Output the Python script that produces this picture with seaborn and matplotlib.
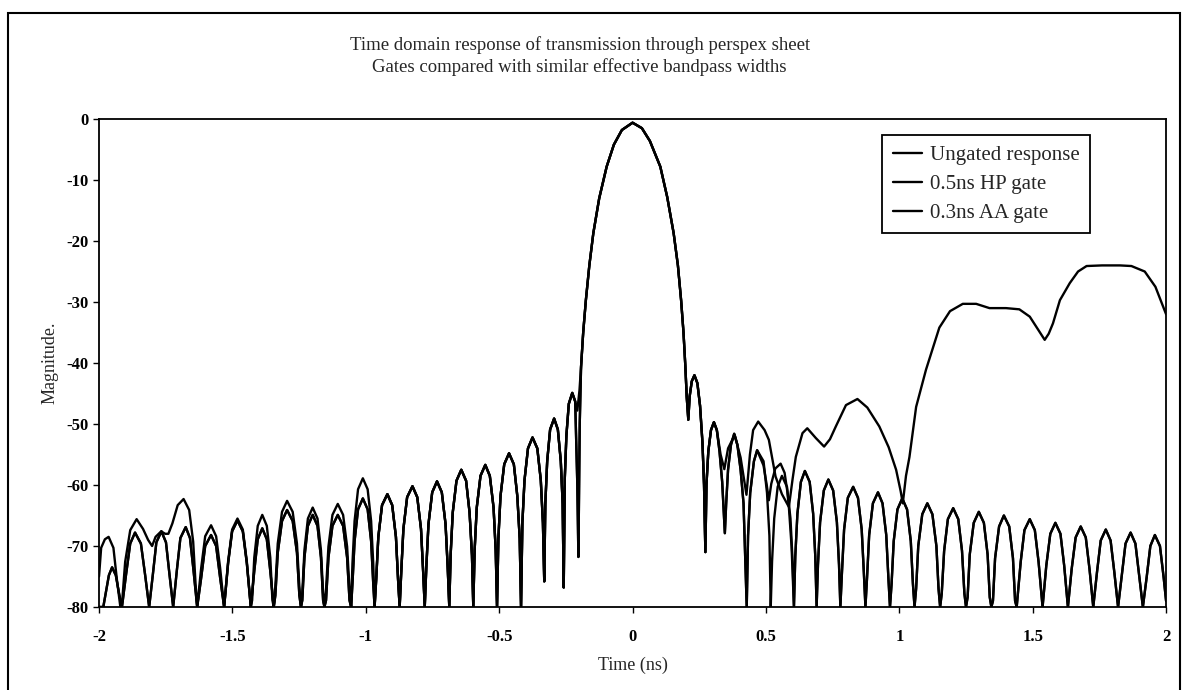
import matplotlib
matplotlib.use('Agg')
import matplotlib.pyplot as plt
import pandas as pd
import seaborn as sns
from matplotlib.patches import Rectangle

# ─────────────────────────────────────────────────────────────────────────────
# Data: (time in ns, magnitude in dB) pairs
# ─────────────────────────────────────────────────────────────────────────────

ungated_left = [
    (-2.000, -75.0), (-1.992, -70.3), (-1.978, -68.9), (-1.964, -68.5), (-1.946, -70.3),
    (-1.933, -75.5), (-1.920, -80.0),
    (-1.913, -79.0), (-1.902, -72.6), (-1.883, -67.4), (-1.859, -65.6), (-1.835, -67.2),
    (-1.816, -69.0), (-1.801, -70.0),
    (-1.788, -68.5), (-1.767, -67.6), (-1.752, -68.0), (-1.740, -68.0), (-1.725, -66.3),
    (-1.705, -63.3), (-1.683, -62.3), (-1.662, -64.1), (-1.647, -69.3), (-1.638, -76.3),
    (-1.632, -80.0),
    (-1.617, -73.6), (-1.602, -68.4), (-1.580, -66.6), (-1.561, -68.4), (-1.546, -73.6), (-1.531, -80.0),
    (-1.516, -72.5), (-1.501, -67.3), (-1.481, -65.5), (-1.461, -67.3), (-1.446, -72.5), (-1.431, -80.0),
    (-1.426, -78.9), (-1.418, -71.9), (-1.405, -66.7), (-1.388, -64.9), (-1.371, -66.7),
    (-1.358, -71.9), (-1.350, -78.9), (-1.345, -80.0),
    (-1.339, -76.6), (-1.330, -69.6), (-1.314, -64.4), (-1.295, -62.6), (-1.274, -64.4),
    (-1.258, -69.6), (-1.249, -76.6), (-1.243, -80.0),
    (-1.238, -77.7), (-1.230, -70.7), (-1.217, -65.5), (-1.199, -63.7), (-1.181, -65.5),
    (-1.168, -70.7), (-1.160, -77.7), (-1.155, -80.0),
    (-1.149, -77.1), (-1.140, -70.1), (-1.125, -64.9), (-1.105, -63.1), (-1.085, -64.9),
    (-1.070, -70.1), (-1.061, -77.1), (-1.055, -80.0),
    (-1.050, -72.9), (-1.042, -65.9), (-1.029, -60.7), (-1.011, -58.9), (-0.993, -60.7),
    (-0.980, -65.9), (-0.972, -72.9), (-0.967, -80.0),
]

gated_left = [
    (-2.000, -80.0), (-1.984, -80.0), (-1.976, -78.0), (-1.963, -74.8), (-1.951, -73.5),
    (-1.937, -74.8), (-1.924, -78.0), (-1.914, -80.0),
    (-1.899, -74.8), (-1.883, -69.6), (-1.865, -67.8), (-1.843, -69.6), (-1.827, -74.8), (-1.812, -80.0),
    (-1.798, -74.6), (-1.785, -69.4), (-1.766, -67.6), (-1.749, -69.4), (-1.736, -74.6), (-1.722, -80.0),
    (-1.708, -73.9), (-1.695, -68.7), (-1.675, -66.9), (-1.659, -68.7), (-1.646, -73.9), (-1.632, -80.0),
    (-1.617, -75.2), (-1.602, -70.0), (-1.580, -68.2), (-1.561, -70.0), (-1.546, -75.2), (-1.531, -80.0),
    (-1.516, -72.8), (-1.501, -67.6), (-1.481, -65.8), (-1.461, -67.6), (-1.446, -72.8), (-1.431, -80.0),
    (-1.418, -74.1), (-1.405, -68.9), (-1.388, -67.1), (-1.371, -68.9), (-1.358, -74.1), (-1.345, -80.0),
    (-1.339, -78.1), (-1.330, -71.1), (-1.314, -65.9), (-1.295, -64.1), (-1.274, -65.9),
    (-1.258, -71.1), (-1.249, -78.1), (-1.243, -80.0),
    (-1.238, -78.9), (-1.230, -71.9), (-1.217, -66.7), (-1.199, -64.9), (-1.181, -66.7),
    (-1.168, -71.9), (-1.160, -78.9), (-1.155, -80.0),
    (-1.149, -78.9), (-1.140, -71.9), (-1.125, -66.7), (-1.105, -64.9), (-1.085, -66.7),
    (-1.070, -71.9), (-1.061, -78.9), (-1.055, -80.0),
    (-1.050, -76.2), (-1.042, -69.2), (-1.029, -64.0), (-1.011, -62.2), (-0.993, -64.0),
    (-0.980, -69.2), (-0.972, -76.2), (-0.967, -80.0),
]

shared_left = [
    (-0.961, -75.5), (-0.953, -68.5), (-0.939, -63.3), (-0.919, -61.5), (-0.901, -63.3),
    (-0.887, -68.5), (-0.879, -75.5), (-0.873, -80.0),
    (-0.867, -74.2), (-0.859, -67.2), (-0.845, -62.0), (-0.825, -60.2), (-0.807, -62.0),
    (-0.793, -67.2), (-0.785, -74.2), (-0.779, -80.0),
    (-0.773, -73.4), (-0.765, -66.4), (-0.751, -61.2), (-0.733, -59.4), (-0.715, -61.2),
    (-0.701, -66.4), (-0.693, -73.4), (-0.687, -80.0),
    (-0.682, -71.5), (-0.674, -64.5), (-0.660, -59.3), (-0.642, -57.5), (-0.624, -59.3),
    (-0.611, -64.5), (-0.602, -71.5), (-0.597, -80.0),
    (-0.592, -70.7), (-0.584, -63.7), (-0.570, -58.5), (-0.552, -56.7), (-0.535, -58.5),
    (-0.521, -63.7), (-0.513, -70.7), (-0.508, -80.0),
    (-0.503, -68.8), (-0.495, -61.8), (-0.481, -56.6), (-0.463, -54.8), (-0.445, -56.6),
    (-0.432, -61.8), (-0.423, -68.8), (-0.418, -80.0),
    (-0.413, -66.2), (-0.405, -59.2), (-0.392, -54.0), (-0.375, -52.2), (-0.357, -54.0),
    (-0.344, -59.2), (-0.336, -66.2), (-0.331, -75.8),
    (-0.327, -63.1), (-0.320, -56.1), (-0.309, -50.9), (-0.294, -49.1), (-0.280, -50.9),
    (-0.269, -56.1), (-0.262, -63.1), (-0.258, -76.8),
    (-0.254, -58.9), (-0.248, -51.9), (-0.239, -46.7), (-0.226, -44.9), (-0.215, -46.3),
]

ungated_join = [(-0.207, -47.8), (-0.199, -44.5)]
gated_join = [(-0.207, -60.0), (-0.203, -71.8), (-0.198, -50.0)]

main_lobe = [
    (-0.193, -40.6), (-0.185, -35.0), (-0.175, -29.7), (-0.162, -24.0), (-0.147, -18.7),
    (-0.125, -13.0), (-0.097, -7.8), (-0.070, -4.2), (-0.040, -1.8), (0.000, -0.6),
    (0.035, -1.5), (0.065, -3.6), (0.104, -7.8), (0.130, -12.8), (0.154, -18.7),
    (0.170, -24.0), (0.182, -29.7), (0.191, -35.0), (0.198, -40.6), (0.203, -45.5),
    (0.209, -49.3),
]

shared_right_near = [
    (0.214, -45.5), (0.222, -43.0), (0.232, -42.0), (0.243, -43.3), (0.253, -47.0),
    (0.262, -53.0), (0.268, -60.0), (0.273, -71.0),
    (0.277, -60.0), (0.284, -54.5), (0.294, -51.0), (0.305, -49.7), (0.316, -51.0),
]

ungated_right = [
    (0.330, -55.0), (0.344, -57.4), (0.358, -54.0), (0.383, -51.8), (0.405, -55.5),
    (0.427, -61.6), (0.440, -55.0), (0.452, -51.0), (0.471, -49.6), (0.495, -51.0),
    (0.511, -52.6), (0.536, -58.6), (0.560, -61.5), (0.586, -63.6), (0.600, -59.0),
    (0.612, -55.4), (0.637, -51.5), (0.655, -50.7), (0.687, -52.3), (0.718, -53.7),
    (0.740, -52.5), (0.762, -50.4), (0.800, -46.9), (0.843, -45.9), (0.880, -47.3),
    (0.925, -50.4), (0.960, -53.8), (0.988, -57.5), (1.005, -61.0), (1.013, -63.0),
    (1.025, -58.5), (1.038, -55.4), (1.063, -47.2), (1.100, -41.1), (1.150, -34.2),
    (1.190, -31.5), (1.238, -30.3), (1.288, -30.3), (1.338, -31.0), (1.400, -31.0),
    (1.450, -31.2), (1.489, -32.4), (1.520, -34.5), (1.545, -36.2), (1.560, -35.2),
    (1.576, -33.5), (1.602, -29.7), (1.639, -26.9), (1.670, -25.0), (1.702, -24.1),
    (1.760, -24.0), (1.827, -24.0), (1.870, -24.1), (1.920, -25.0), (1.960, -27.5),
    (2.000, -32.0),
]

hp_right_near = [
    (0.326, -54.5), (0.336, -59.5), (0.346, -67.9), (0.351, -63.0), (0.358, -57.5),
    (0.369, -53.4), (0.381, -51.6), (0.393, -53.4), (0.405, -57.5), (0.416, -63.0),
    (0.428, -80.0),
    (0.433, -68.3), (0.441, -61.3), (0.455, -56.1), (0.467, -54.3), (0.491, -56.1),
    (0.504, -61.3), (0.513, -68.3), (0.518, -80.0),
    (0.523, -72.5), (0.531, -65.5), (0.544, -60.3), (0.560, -58.5), (0.579, -60.3),
    (0.592, -65.5), (0.600, -72.5), (0.605, -80.0),
]

aa_right_near = [
    (0.326, -54.5), (0.336, -59.5), (0.346, -67.9), (0.351, -63.0), (0.358, -57.5),
    (0.369, -53.4), (0.381, -51.6), (0.393, -53.4), (0.405, -57.5), (0.416, -63.0),
    (0.428, -80.0),
    (0.433, -68.3), (0.441, -61.3), (0.455, -56.1), (0.467, -54.3), (0.491, -56.8),
    (0.503, -60.0), (0.511, -62.5), (0.520, -59.8), (0.535, -57.3), (0.555, -56.5),
    (0.570, -58.0), (0.580, -61.0), (0.586, -63.6), (0.596, -70.0), (0.605, -80.0),
]

gated_right = [
    (0.610, -71.7), (0.618, -64.7), (0.631, -59.5), (0.646, -57.7), (0.664, -59.5),
    (0.677, -64.7), (0.685, -71.7), (0.690, -80.0),
    (0.695, -73.1), (0.703, -66.1), (0.717, -60.9), (0.734, -59.1), (0.752, -60.9),
    (0.766, -66.1), (0.774, -73.1), (0.779, -80.0),
    (0.785, -74.3), (0.793, -67.3), (0.807, -62.1), (0.827, -60.3), (0.845, -62.1),
    (0.859, -67.3), (0.867, -74.3), (0.873, -80.0),
    (0.879, -75.2), (0.887, -68.2), (0.901, -63.0), (0.920, -61.2), (0.937, -63.0),
    (0.951, -68.2), (0.959, -75.2), (0.965, -80.0),
    (0.971, -76.2), (0.979, -69.2), (0.993, -64.0), (1.011, -62.2), (1.029, -64.0),
    (1.043, -69.2), (1.051, -76.2), (1.057, -80.0),
    (1.063, -77.0), (1.071, -70.0), (1.086, -64.8), (1.105, -63.0), (1.124, -64.8),
    (1.139, -70.0), (1.147, -77.0), (1.153, -80.0),
    (1.159, -77.8), (1.168, -70.8), (1.182, -65.6), (1.202, -63.8), (1.221, -65.6),
    (1.235, -70.8), (1.244, -77.8), (1.250, -80.0),
    (1.256, -78.4), (1.264, -71.4), (1.279, -66.2), (1.298, -64.4), (1.317, -66.2),
    (1.331, -71.4), (1.339, -78.4), (1.345, -80.0),
    (1.351, -79.0), (1.359, -72.0), (1.374, -66.8), (1.392, -65.0), (1.412, -66.8),
    (1.426, -72.0), (1.434, -79.0), (1.440, -80.0),
    (1.455, -72.6), (1.469, -67.4), (1.489, -65.6), (1.508, -67.4), (1.522, -72.6), (1.537, -80.0),
    (1.551, -73.2), (1.566, -68.0), (1.585, -66.2), (1.604, -68.0), (1.618, -73.2), (1.632, -80.0),
    (1.646, -73.8), (1.661, -68.6), (1.680, -66.8), (1.699, -68.6), (1.713, -73.8), (1.727, -80.0),
    (1.741, -74.3), (1.755, -69.1), (1.774, -67.3), (1.792, -69.1), (1.806, -74.3), (1.820, -80.0),
    (1.834, -74.8), (1.848, -69.6), (1.867, -67.8), (1.885, -69.6), (1.899, -74.8), (1.913, -80.0),
    (1.927, -75.2), (1.941, -70.0), (1.958, -68.2), (1.977, -70.0), (1.991, -75.2), (2.000, -79.0),
]

series_names = ['Ungated response', '0.5ns HP gate', '0.3ns AA gate']
x_ticks = [-2, -1.5, -1, -0.5, 0, 0.5, 1, 1.5, 2]
x_tick_labels = ['-2', '-1.5', '-1', '-0.5', '0', '0.5', '1', '1.5', '2']
y_ticks = [0, -10, -20, -30, -40, -50, -60, -70, -80]


def build(name, *segments):
    pts = [p for seg in segments for p in seg]
    return pd.DataFrame({
        'time': [p[0] for p in pts],
        'mag': [p[1] for p in pts],
        'series': name,
    })


df = pd.concat([
    build(series_names[0], ungated_left, shared_left, ungated_join, main_lobe,
          shared_right_near, ungated_right),
    build(series_names[1], gated_left, shared_left, gated_join, main_lobe,
          shared_right_near, hp_right_near, gated_right),
    build(series_names[2], gated_left, shared_left, gated_join, main_lobe,
          shared_right_near, aa_right_near, gated_right),
], ignore_index=True)

# ─────────────────────────────────────────────────────────────────────────────
# Plot
# ─────────────────────────────────────────────────────────────────────────────

sns.set_style('ticks')
plt.rcParams['font.family'] = ['Liberation Serif', 'DejaVu Serif']

fig = plt.figure(figsize=(11.83, 6.90), dpi=100)
ax = fig.add_axes([0.0837, 0.1203, 0.902, 0.7072])

sns.lineplot(
    data=df, x='time', y='mag', hue='series', hue_order=series_names,
    palette=['black'] * 3, sort=False, estimator=None, linewidth=1.7, ax=ax,
)

ax.set_xlim(-2, 2)
ax.set_ylim(-80, 0)
ax.set_xticks(x_ticks)
ax.set_xticklabels(x_tick_labels)
ax.set_yticks(y_ticks)
ax.set_yticklabels([str(v) for v in y_ticks])
ax.tick_params(direction='out', length=4, width=1, labelsize=12, colors='black')
ax.tick_params(axis='x', pad=12)
for lbl in ax.get_xticklabels() + ax.get_yticklabels():
    lbl.set_fontweight('bold')
for sp in ax.spines.values():
    sp.set_color('black')
    sp.set_linewidth(1.3)

ax.set_xlabel('Time (ns)', fontsize=13, labelpad=8)
ax.set_ylabel('Magnitude.', fontsize=13, labelpad=6)

leg = ax.legend(
    loc='upper right', bbox_to_anchor=(0.929, 0.967), borderaxespad=0, fontsize=15,
    frameon=True, fancybox=False, framealpha=1, edgecolor='black',
    handlelength=1.4, handletextpad=0.4, labelspacing=0.45, borderpad=0.5,
)
leg.get_frame().set_linewidth(1.3)
for line in leg.get_lines():
    line.set_linewidth(1.7)

fig.text(0.49, 1 - 45 / 690, 'Time domain response of transmission through perspex sheet',
         ha='center', va='center', fontsize=13.5)
fig.text(0.49, 1 - 67 / 690, 'Gates compared with similar effective bandpass widths',
         ha='center', va='center', fontsize=13.5)

fig.patches.append(Rectangle((8 / 1183, -0.1), 1172 / 1183, 1.1 - 13 / 690,
                             transform=fig.transFigure, fill=False,
                             edgecolor='black', linewidth=1.5))

fig.savefig('out.png', dpi=100)
